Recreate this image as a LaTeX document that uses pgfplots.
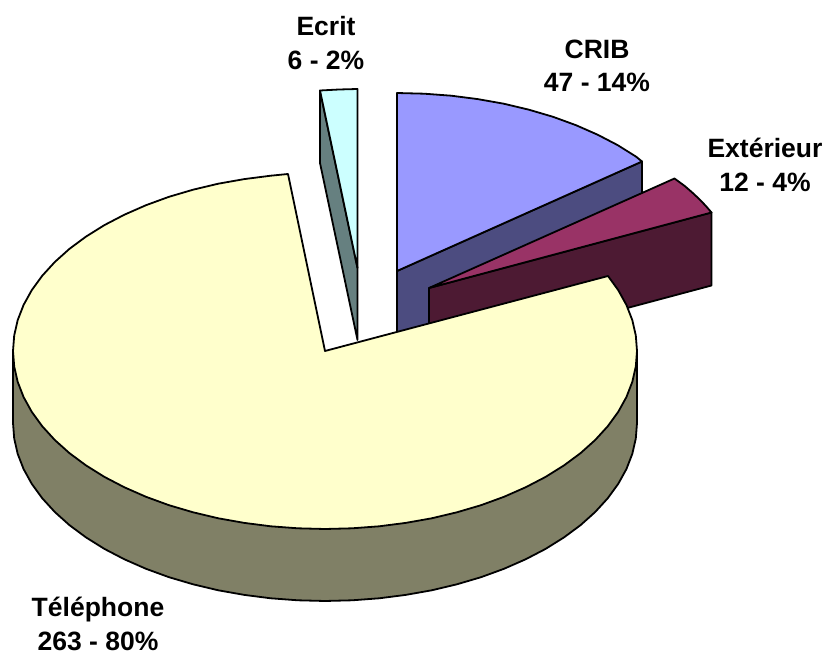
\documentclass[border=0pt]{standalone}
\usepackage{fontspec}
\setmainfont{Liberation Sans}
\usepackage{pgfplots}
\pgfplotsset{compat=1.18}
\definecolor{telT}{HTML}{FFFFCC}
\definecolor{telS}{HTML}{808066}
\definecolor{cribT}{HTML}{9999FF}
\definecolor{cribS}{HTML}{4C4C80}
\definecolor{extT}{HTML}{993366}
\definecolor{extS}{HTML}{4D1A33}
\definecolor{ecrT}{HTML}{CCFFFF}
\definecolor{ecrS}{HTML}{668080}
\tikzset{lab/.style={font=\bfseries\fontsize{26.5}{33.5}\selectfont, align=center, text=black, inner sep=0pt}}
\begin{document}
\begin{tikzpicture}
\begin{axis}[
  at={(0pt,0pt)}, anchor=south west,
  width=825pt, height=652pt, scale only axis,
  xmin=0, xmax=825, ymin=0, ymax=652, y dir=reverse,
  hide axis, clip=false,
  every axis plot/.append style={draw=black, line width=1.8pt, line join=round, mark=none},
]
% Ecrit
\addplot[fill=ecrS] coordinates {(320,90.5)(320,163)(357.5,340)(357.5,268)} --cycle;
\addplot[fill=ecrT] coordinates {(357.5,268)(320,90.5)(339,89.5)(357.5,89)} --cycle;
% CRIB
\addplot[fill=cribS] coordinates {(397,271)(642,161.5)(642,233.5)(397,343)} --cycle;
\addplot[fill=cribT] coordinates {(397,271)(397,93)(424.2,93.7)(451.2,95.7)(477.7,99.1)(503.7,103.7)(528.9,109.7)(553,116.8)(576,125.2)(597.6,134.7)(617.6,145.1)(636,156.6)(642,161.5)} --cycle;
% Exterieur
\addplot[fill=extS] coordinates {(429,288)(711.5,212.5)(711.5,285.5)(429,361)} --cycle;
\addplot[fill=extT] coordinates {(429,288)(674.5,178.5)(684.6,185.9)(692.1,192.4)(699.2,199)(705.7,205.8)(711.5,212.5)} --cycle;
% Telephone side
\addplot[fill=telS] coordinates {(637,351)(637,423)(635.8,438.5)(632.3,453.9)(626.4,469.1)(618.2,483.9)(607.8,498.2)(595.2,512)(580.6,525.1)(564,537.4)(545.6,548.9)(525.6,559.3)(504,568.8)(481,577.2)(456.9,584.3)(431.7,590.3)(405.7,594.9)(379.2,598.3)(352.2,600.3)(325,601)(297.8,600.3)(270.8,598.3)(244.3,594.9)(218.3,590.3)(193.1,584.3)(169,577.2)(146,568.8)(124.4,559.3)(104.4,548.9)(86,537.4)(69.4,525.1)(54.8,512)(42.2,498.2)(31.8,483.9)(23.6,469.1)(17.7,453.9)(14.2,438.5)(13,423)(13,351)} --cycle;
% Telephone top
\addplot[fill=telT] coordinates {(325,351)(608,276)(618.2,290.1)(626.4,304.9)(632.3,320.1)(635.8,335.5)(637,351)(635.8,366.5)(632.3,381.9)(626.4,397.1)(618.2,411.9)(607.8,426.2)(595.2,440)(580.6,453.1)(564,465.4)(545.6,476.9)(525.6,487.3)(504,496.8)(481,505.2)(456.9,512.3)(431.7,518.3)(405.7,522.9)(379.2,526.3)(352.2,528.3)(325,529)(297.8,528.3)(270.8,526.3)(244.3,522.9)(218.3,518.3)(193.1,512.3)(169,505.2)(146,496.8)(124.4,487.3)(104.4,476.9)(86,465.4)(69.4,453.1)(54.8,440)(42.2,426.2)(31.8,411.9)(23.6,397.1)(17.7,381.9)(14.2,366.5)(13,351)(14.2,335.5)(17.7,320.1)(23.6,304.9)(31.8,290.1)(42.2,275.8)(54.8,262)(69.4,248.9)(86,236.6)(104.4,225.1)(124.4,214.7)(146,205.2)(169,196.8)(193.1,189.7)(218.3,183.7)(244.3,179.1)(270.8,175.7)(288,174)} --cycle;
% Labels
\node[lab] at (axis cs:326,43) {Ecrit\\6 - 2\%};
\node[lab] at (axis cs:597,66) {CRIB\\47 - 14\%};
\node[lab] at (axis cs:765,165) {Extérieur\\12 - 4\%};
\node[lab] at (axis cs:98,624) {Téléphone\\263 - 80\%};
\end{axis}
\path[use as bounding box] (0pt,0pt) rectangle (825pt,652pt);
\end{tikzpicture}
\end{document}
